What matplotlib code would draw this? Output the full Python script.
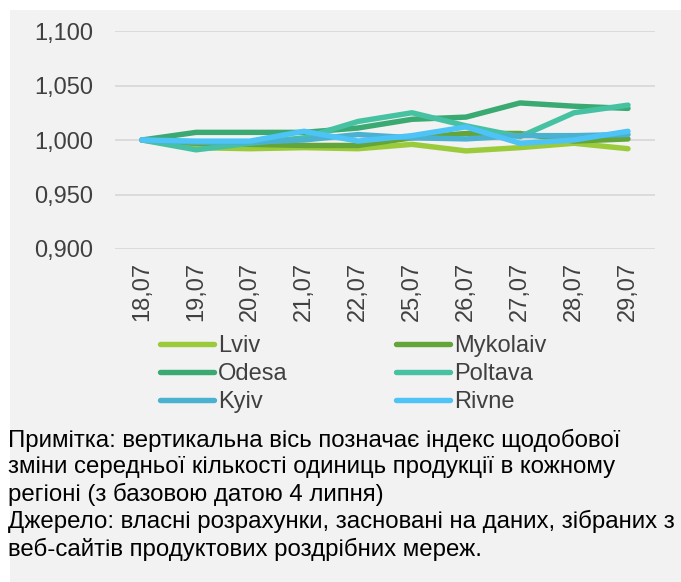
import matplotlib
matplotlib.use("Agg")
import matplotlib.pyplot as plt
from matplotlib.patches import Rectangle
from matplotlib.ticker import FuncFormatter

# =====================================================
# DATA
# =====================================================

dates = ["18,07", "19,07", "20,07", "21,07", "22,07",
         "25,07", "26,07", "27,07", "28,07", "29,07"]

lviv = [1.000, 0.993, 0.992, 0.993, 0.992, 0.996, 0.990, 0.993, 0.997, 0.992]
mykolaiv = [1.000, 0.997, 0.996, 0.995, 0.995, 1.002, 1.006, 1.006, 0.999, 1.001]
odesa = [1.000, 1.007, 1.007, 1.007, 1.011, 1.019, 1.021, 1.034, 1.031, 1.029]
poltava = [1.000, 0.991, 0.997, 1.002, 1.017, 1.025, 1.013, 1.003, 1.025, 1.032]
kyiv = [1.000, 0.998, 0.998, 1.000, 1.005, 1.002, 1.001, 1.004, 1.004, 1.005]
rivne = [1.000, 0.999, 0.999, 1.008, 0.999, 1.004, 1.012, 0.997, 1.000, 1.008]

series = [
    ("Lviv", lviv, "#9BCB3B"),
    ("Mykolaiv", mykolaiv, "#63A538"),
    ("Odesa", odesa, "#3AA972"),
    ("Poltava", poltava, "#46C2A2"),
    ("Kyiv", kyiv, "#4AB2D0"),
    ("Rivne", rivne, "#4EC3F6"),
]

note = ("Примітка: вертикальна вісь позначає індекс щодобової\n"
        "зміни середньої кількості одиниць продукції в кожному\n"
        "регіоні (з базовою датою 4 липня)\n"
        "Джерело: власні розрахунки, засновані на даних, зібраних з\n"
        "веб-сайтів продуктових роздрібних мереж.")

# =====================================================
# FIGURE
# =====================================================

plt.rcParams["font.family"] = ["Liberation Sans", "DejaVu Sans"]

W, H = 681, 582
FS = 17
fig = plt.figure(figsize=(W / 100, H / 100), dpi=100)
fig.patch.set_facecolor("white")

# grey panel
fig.patches.append(Rectangle((10 / W, 0), 1, 1 - 10 / H,
                             transform=fig.transFigure,
                             facecolor="#F2F2F2", edgecolor="none",
                             zorder=-10))

ax = fig.add_axes([115 / W, 1 - 249 / H, 540 / W, 218 / H])
ax.set_facecolor("none")

x = list(range(len(dates)))
lines = {}
for name, vals, col in series:
    ln, = ax.plot(x, vals, color=col, linewidth=3.9,
                  solid_capstyle="round", solid_joinstyle="round",
                  label=name)
    lines[name] = ln

ax.set_xlim(-0.5, len(dates) - 0.5)
ax.set_ylim(0.9, 1.1)
ax.set_yticks([0.9, 0.95, 1.0, 1.05, 1.1])
ax.yaxis.set_major_formatter(
    FuncFormatter(lambda v, p: f"{v:.3f}".replace(".", ",")))
ax.set_xticks(x)
ax.set_xticklabels(dates, rotation=90)

ax.grid(axis="y", color="#D9D9D9", linewidth=1.3)
ax.set_axisbelow(True)
for s in ax.spines.values():
    s.set_visible(False)

ax.tick_params(axis="both", length=0, labelsize=FS, labelcolor="#404040")
ax.tick_params(axis="y", pad=16)
ax.tick_params(axis="x", pad=9)

# legend: two single-column legends, row-wise like the source
cols = [["Lviv", "Odesa", "Kyiv"], ["Mykolaiv", "Poltava", "Rivne"]]
xs = [160, 396]
for names, lx in zip(cols, xs):
    leg = fig.legend([lines[n] for n in names], names,
                     loc="upper left",
                     bbox_to_anchor=(lx / W, 1 - 335 / H),
                     frameon=False, fontsize=FS, handlelength=2.3,
                     handletextpad=0.15, labelspacing=0.25,
                     borderpad=0, borderaxespad=0)
    for t in leg.get_texts():
        t.set_color("#404040")

fig.text(8 / W, 1 - 429 / H, note, ha="left", va="top",
         fontsize=17.3, color="#000000", linespacing=1.24)

fig.savefig("out.png", dpi=100, facecolor=fig.get_facecolor())
